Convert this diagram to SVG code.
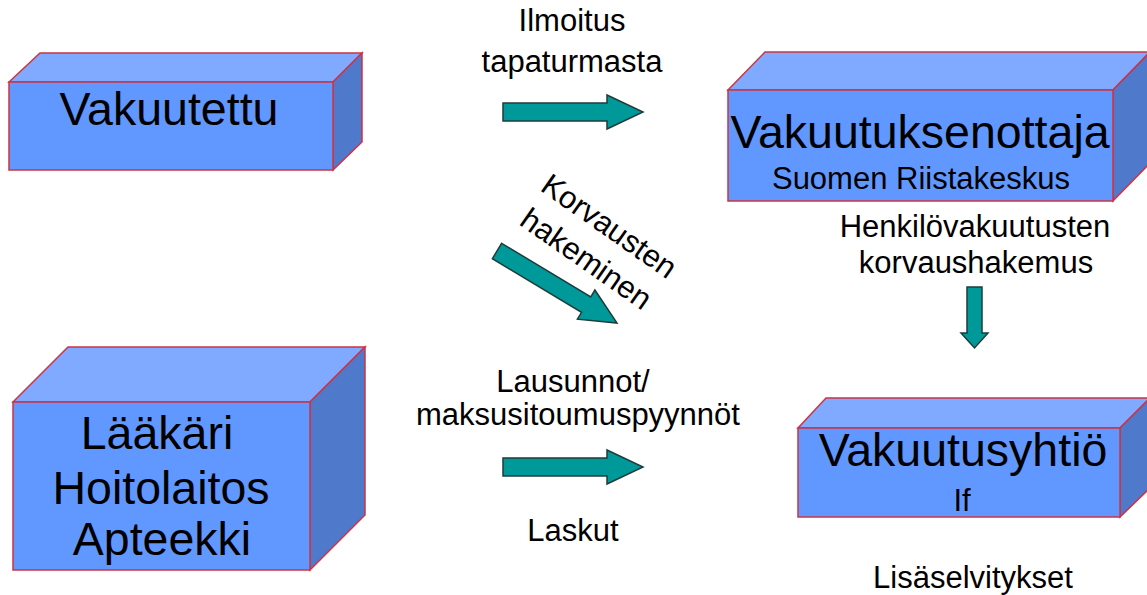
<svg xmlns="http://www.w3.org/2000/svg" width="1147" height="595" viewBox="0 0 1147 595">
<style>
.front{fill:#6198FF;stroke:#CC3344;stroke-width:1.5}
.top{fill:#80AAFF;stroke:#CC3344;stroke-width:1.5}
.side{fill:#4F7ACC;stroke:#CC3344;stroke-width:1.5}
.big{font-family:"Liberation Sans",Arial,sans-serif;font-size:46.5px;fill:#000;text-anchor:middle}
.small{font-family:"Liberation Sans",Arial,sans-serif;font-size:31px;fill:#000;text-anchor:middle}
.arrow{fill:#009999;stroke:#1E3C3C;stroke-width:1.5;stroke-linejoin:miter}
</style>
<defs>
<path id="harrow" d="M0,-9 L104,-9 L104,-17 L140,0 L104,17 L104,9 L0,9 Z"/>
</defs>
<rect width="1147" height="595" fill="#FFFFFF"/>

<g id="vakuutettu">
<polygon class="top" points="9,82 40,53 362,53 333,82"/>
<polygon class="side" points="333,82 362,53 362,142 333,170"/>
<rect class="front" x="9" y="82" width="324" height="88"/>
<text class="big" x="169" y="125">Vakuutettu</text>
</g>

<g id="vakuutuksenottaja">
<polygon class="top" points="728,90 765,52 1150,52 1113,90"/>
<polygon class="side" points="1113,90 1150,52 1150,163 1113,201"/>
<rect class="front" x="728" y="90" width="385" height="111"/>
<text class="big" x="920" y="148">Vakuutuksenottaja</text>
<text class="small" x="921" y="189">Suomen Riistakeskus</text>
</g>

<g id="vakuutusyhtio">
<polygon class="top" points="798,428 826,398 1150,398 1120,428"/>
<polygon class="side" points="1120,428 1150,398 1150,488 1120,517"/>
<rect class="front" x="798" y="428" width="322" height="89"/>
<text class="big" x="963" y="466">Vakuutusyhtiö</text>
<text class="small" x="962" y="511">If</text>
</g>

<g id="laakari">
<polygon class="top" points="13,402 68,347 365,347 310,402"/>
<polygon class="side" points="310,402 365,347 365,515 310,570"/>
<rect class="front" x="13" y="402" width="297" height="168"/>
<text class="big" x="157" y="449">Lääkäri</text>
<text class="big" x="161" y="504">Hoitolaitos</text>
<text class="big" x="162" y="555">Apteekki</text>
</g>

<g id="connectors">
<use href="#harrow" class="arrow" transform="translate(503,112)"/>
<use href="#harrow" class="arrow" transform="translate(503,467)"/>
<use href="#harrow" class="arrow" transform="translate(497,251) rotate(31)"/>
<path class="arrow" d="M967,287 L982,287 L982,333 L988,333 L974.5,348 L961,333 L967,333 Z"/>
</g>

<g id="labels">
<text class="small" x="572" y="31">Ilmoitus</text>
<text class="small" x="572" y="72">tapaturmasta</text>
<g transform="translate(598,242) rotate(35)">
<text class="small" x="0" y="-9">Korvausten</text>
<text class="small" x="0" y="31">hakeminen</text>
</g>
<text class="small" x="975" y="237">Henkilövakuutusten</text>
<text class="small" x="976" y="273">korvaushakemus</text>
<text class="small" x="573" y="392">Lausunnot/</text>
<text class="small" x="578" y="425">maksusitoumuspyynnöt</text>
<text class="small" x="573" y="541">Laskut</text>
<text class="small" x="973" y="588">Lisäselvitykset</text>
</g>
</svg>
